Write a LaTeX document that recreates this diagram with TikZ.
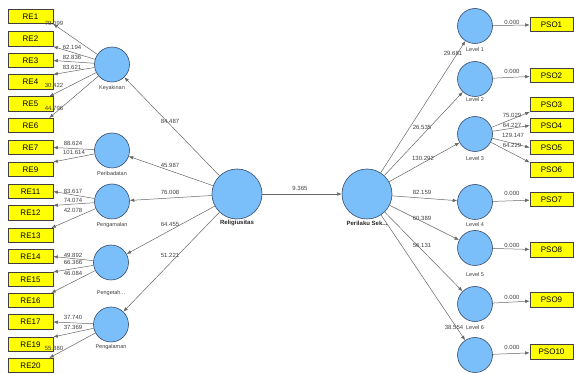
\documentclass[tikz,border=0pt]{standalone}
\usepackage{fontspec}
\setmainfont{Liberation Sans}
\usetikzlibrary{arrows.meta}
\definecolor{circfill}{RGB}{122,190,250}
\definecolor{circline}{RGB}{55,75,105}
\definecolor{boxfill}{RGB}{255,255,0}
\tikzset{
 lv/.style={circle, draw=circline, fill=circfill, minimum size=35pt, inner sep=0pt, line width=0.6pt},
 bigc/.style={lv, minimum size=50pt},
 ind/.style={rectangle, draw=black!75, fill=boxfill, minimum width=45pt, minimum height=14.5pt, inner sep=0pt, line width=0.6pt, font=\fontsize{8}{8}\selectfont},
 indr/.style={ind, minimum width=43pt},
 conn/.style={draw=black!60, line width=0.5pt, -{Latex[length=4.5pt,width=3.5pt]}},
 val/.style={font=\fontsize{6}{6}\selectfont, text=black!75, inner sep=0pt},
 lvcap/.style={font=\fontsize{5.5}{6}\selectfont, text=black!75, inner sep=0pt},
 lvcapb/.style={font=\fontsize{6}{6}\selectfont\bfseries, text=black!85, inner sep=0pt},
}
\begin{document}
\begin{tikzpicture}[x=1pt,y=-1pt]
\useasboundingbox (0,0) rectangle (574,374);
% left indicators
\node[ind] (re1) at (30.5,16.5) {RE1};
\node[ind] (re2) at (30.5,39) {RE2};
\node[ind] (re3) at (30.5,60.5) {RE3};
\node[ind] (re4) at (30.5,82) {RE4};
\node[ind] (re5) at (30.5,104) {RE5};
\node[ind] (re6) at (30.5,125.5) {RE6};
\node[ind] (re7) at (30.5,147.5) {RE7};
\node[ind] (re9) at (30.5,169.5) {RE9};
\node[ind] (re11) at (30.5,191.5) {RE11};
\node[ind] (re12) at (30.5,213) {RE12};
\node[ind] (re13) at (30.5,235.5) {RE13};
\node[ind] (re14) at (30.5,256.5) {RE14};
\node[ind] (re15) at (30.5,279.5) {RE15};
\node[ind] (re16) at (30.5,300.5) {RE16};
\node[ind] (re17) at (30.5,322) {RE17};
\node[ind] (re19) at (30.5,344.5) {RE19};
\node[ind] (re20) at (30.5,365.5) {RE20};
% left latent
\node[lv] (kya) at (112,64.5) {};
\node[lv] (per) at (112,150.5) {};
\node[lv] (pgm) at (112,201.5) {};
\node[lv] (pgt) at (111,262.5) {};
\node[lv] (pgl) at (111,324.5) {};
\node[lvcap] (kyaL) at (112,88) {Keyakinan};
\node[lvcap] (perL) at (112,173.5) {Peribadatan};
\node[lvcap] (pgmL) at (112,225) {Pengamalan};
\node[lvcap] (pgtL) at (111,293) {Pengetah...};
\node[lvcap] (pglL) at (111,347) {Pengalaman};
% centre
\node[bigc] (rel) at (237,194) {};
\node[bigc] (pse) at (367,194) {};
\node[lvcapb] (relL) at (237,223) {Religiusitas};
\node[lvcapb] (pseL) at (367,223) {Perilaku Sek...};
% right latent
\node[lv] (l1) at (475,26) {};
\node[lv] (l2) at (475,79) {};
\node[lv] (l3) at (475,134) {};
\node[lv] (l4) at (475,202) {};
\node[lv] (l5) at (475,248) {};
\node[lv] (l6) at (475,304) {};
\node[lv] (l7) at (475,355) {};
\node[lvcap] (l1L) at (475,50) {Level 1};
\node[lvcap] (l2L) at (475,100) {Level 2};
\node[lvcap] (l3L) at (475,159) {Level 3};
\node[lvcap] (l4L) at (475,225) {Level 4};
\node[lvcap] (l5L) at (475,275) {Level 5};
\node[lvcap] (l6L) at (475,327.5) {Level 6};
% right indicators
\node[indr] (p1) at (551.5,24.5) {PSO1};
\node[indr] (p2) at (551.5,75.5) {PSO2};
\node[indr] (p3) at (551.5,104.5) {PSO3};
\node[indr] (p4) at (551.5,125.5) {PSO4};
\node[indr] (p5) at (551.5,147.5) {PSO5};
\node[indr] (p6) at (551.5,170) {PSO6};
\node[indr] (p7) at (551.5,199.5) {PSO7};
\node[indr] (p8) at (551.5,250) {PSO8};
\node[indr] (p9) at (551.5,300) {PSO9};
\node[indr] (p10) at (551.5,352) {PSO10};
% connectors left
\draw[conn] (kya) -- (re1.south east);
\draw[conn] (kya) -- (re2.south east);
\draw[conn] (kya) -- (re3.east);
\draw[conn] (kya) -- (re4.north east);
\draw[conn] (kya) -- ([xshift=-4pt]re5.north east);
\draw[conn] (kya) -- ([xshift=-4pt]re6.north east);
\draw[conn] (per) -- (re7.east);
\draw[conn] (per) -- (re9.north east);
\draw[conn] (pgm) -- (re11.east);
\draw[conn] (pgm) -- (re12.north east);
\draw[conn] (pgm) -- ([xshift=-2pt]re13.north east);
\draw[conn] (pgt) -- (re14.east);
\draw[conn] (pgt) -- (re15.north east);
\draw[conn] (pgt) -- ([xshift=-2pt]re16.north east);
\draw[conn] (pgl) -- (re17.east);
\draw[conn] (pgl) -- (re19.north east);
\draw[conn] (pgl) -- ([xshift=-4pt]re20.north east);
\draw[conn] (rel) -- (kya);
\draw[conn] (rel) -- (per);
\draw[conn] (rel) -- (pgm);
\draw[conn] (rel) -- (pgt);
\draw[conn] (rel) -- (pgl);
\draw[conn] (rel) -- (pse);
% connectors right
\draw[conn] (pse) -- (l1);
\draw[conn] (pse) -- (l2);
\draw[conn] (pse) -- (l3);
\draw[conn] (pse) -- (l4);
\draw[conn] (pse) -- (l5);
\draw[conn] (pse) -- (l6);
\draw[conn] (pse) -- (l7);
\draw[conn] (l1) -- (p1);
\draw[conn] (l2) -- (p2);
\draw[conn] (l3) -- (p3.south west);
\draw[conn] (l3) -- (p4.west);
\draw[conn] (l3) -- (p5.west);
\draw[conn] (l3) -- (p6.north west);
\draw[conn] (l4) -- (p7);
\draw[conn] (l5) -- (p8);
\draw[conn] (l6) -- (p9);
\draw[conn] (l7) -- (p10);
% values
\node[val] (v1) at (54,23) {79.099};
\node[val] (v2) at (72,47) {62.194};
\node[val] (v3) at (72,57) {82.836};
\node[val] (v4) at (72,67) {83.621};
\node[val] (v5) at (54,85) {30.422};
\node[val] (v6) at (54,108) {44.796};
\node[val] (v7) at (73,143) {88.624};
\node[val] (v9) at (74,152) {101.614};
\node[val] (v11) at (73,191) {83.617};
\node[val] (v12) at (73,200) {74.074};
\node[val] (v13) at (73,210) {42.078};
\node[val] (v14) at (73,255) {49.892};
\node[val] (v15) at (73,262) {66.366};
\node[val] (v16) at (73,273) {46.084};
\node[val] (v17) at (73,317) {37.740};
\node[val] (v19) at (73,327) {37.369};
\node[val] (v20) at (54,348) {55.880};
\node[val] (w1) at (170,121) {84.487};
\node[val] (w2) at (170,165) {45.987};
\node[val] (w3) at (170,192) {76.008};
\node[val] (w4) at (170,224) {64.455};
\node[val] (w5) at (170,255) {51.221};
\node[val] (w6) at (300,188) {9.365};
\node[val] (u1) at (453,53) {29.681};
\node[val] (u2) at (422,127) {26.535};
\node[val] (u3) at (423,158) {130.292};
\node[val] (u4) at (422,192) {82.159};
\node[val] (u5) at (422,218) {60.389};
\node[val] (u6) at (422,245) {56.131};
\node[val] (u7) at (454,327.5) {38.554};
\node[val] (o1) at (512,22) {0.000};
\node[val] (o2) at (512,71) {0.000};
\node[val] (o3) at (512,115) {75.029};
\node[val] (o4) at (512,125) {64.227};
\node[val] (o5) at (513,135) {129.147};
\node[val] (o6) at (512,145) {64.229};
\node[val] (o7) at (512,193) {0.000};
\node[val] (o8) at (512,245) {0.000};
\node[val] (o9) at (512,297) {0.000};
\node[val] (o10) at (512,347) {0.000};
\end{tikzpicture}
\end{document}
